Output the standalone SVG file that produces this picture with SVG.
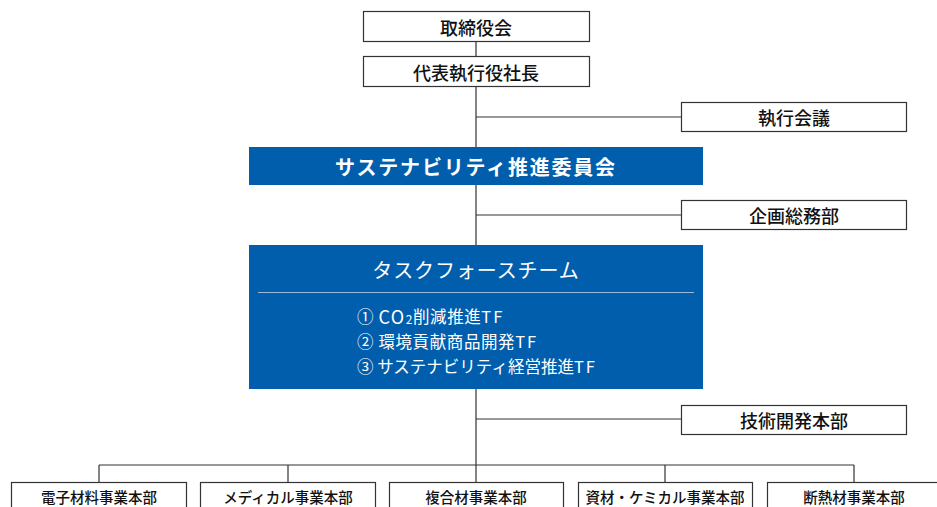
<svg xmlns="http://www.w3.org/2000/svg" width="937" height="507" viewBox="0 0 937 507">
<style>
.box{fill:#fff;stroke:#333;stroke-width:1.2}
.blue{fill:#005EAD}
.t{font-family:"Noto Sans CJK JP","Noto Sans",sans-serif;font-size:18px;font-weight:500;fill:#111;text-anchor:middle;dominant-baseline:central}
.tb{font-family:"Noto Sans CJK JP","Noto Sans",sans-serif;font-size:14.5px;font-weight:500;fill:#111;text-anchor:middle;dominant-baseline:central}
.w{font-family:"Noto Sans CJK JP","Noto Sans",sans-serif;fill:#fff;dominant-baseline:central}
.it{font-size:16.5px;letter-spacing:0.6px}
.it0{font-size:16.5px;letter-spacing:0}
.tf{letter-spacing:2px}
.ln{stroke:#333;stroke-width:1.2;fill:none}
</style>
<g id="connectors">
<path class="ln" d="M476 41V57M476 86V465M476 117H681M476 215H681M476 419H681M99 465H854M99 465V482M288 465V482M476 465V482M665 465V482M854 465V482"/>
</g>
<g id="board"><rect class="box" x="363.5" y="11.5" width="226" height="30"/><text class="t" x="476" y="26.5">取締役会</text></g>
<g id="ceo"><rect class="box" x="363.5" y="56.5" width="226" height="30"/><text class="t" x="476" y="71.5">代表執行役社長</text></g>
<g id="exec"><rect class="box" x="681.5" y="102.5" width="225" height="29"/><text class="t" x="794" y="117">執行会議</text></g>
<g id="sustain"><rect class="blue" x="249" y="147" width="454" height="38"/><text class="w" x="476" y="166" text-anchor="middle" font-size="20" font-weight="700" letter-spacing="1.8">サステナビリティ推進委員会</text></g>
<g id="planning"><rect class="box" x="681.5" y="200.5" width="225" height="29"/><text class="t" x="794" y="215">企画総務部</text></g>
<g id="taskforce"><rect class="blue" x="249" y="245" width="454" height="144"/>
<text class="w" x="476" y="269" text-anchor="middle" font-size="20" letter-spacing="0.9">タスクフォースチーム</text>
<line x1="258" y1="292.5" x2="694" y2="292.5" stroke="#9DB9DC" stroke-width="1.2"/>
<text class="w it" x="357" y="316">① <tspan font-size="18" letter-spacing="1.5">CO</tspan><tspan font-size="12" dy="2">2</tspan><tspan dy="-2">削減推進</tspan><tspan class="tf">TF</tspan></text>
<text class="w it" x="357" y="341">② 環境貢献商品開発<tspan class="tf">TF</tspan></text>
<text class="w it0" x="357" y="366">③ サステナビリティ経営推進<tspan class="tf">TF</tspan></text>
</g>
<g id="rnd"><rect class="box" x="681.5" y="405.5" width="225" height="29"/><text class="t" x="794" y="420">技術開発本部</text></g>
<g id="div1"><rect class="box" x="11.5" y="482.5" width="175" height="30"/><text class="tb" x="99" y="496">電子材料事業本部</text></g>
<g id="div2"><rect class="box" x="200.5" y="482.5" width="175" height="30"/><text class="tb" x="288" y="496">メディカル事業本部</text></g>
<g id="div3"><rect class="box" x="389.5" y="482.5" width="174" height="30"/><text class="tb" x="476" y="496">複合材事業本部</text></g>
<g id="div4"><rect class="box" x="578.5" y="482.5" width="174" height="30"/><text class="tb" x="665" y="496">資材・ケミカル事業本部</text></g>
<g id="div5"><rect class="box" x="767.5" y="482.5" width="175" height="30"/><text class="tb" x="854" y="496">断熱材事業本部</text></g>
</svg>
